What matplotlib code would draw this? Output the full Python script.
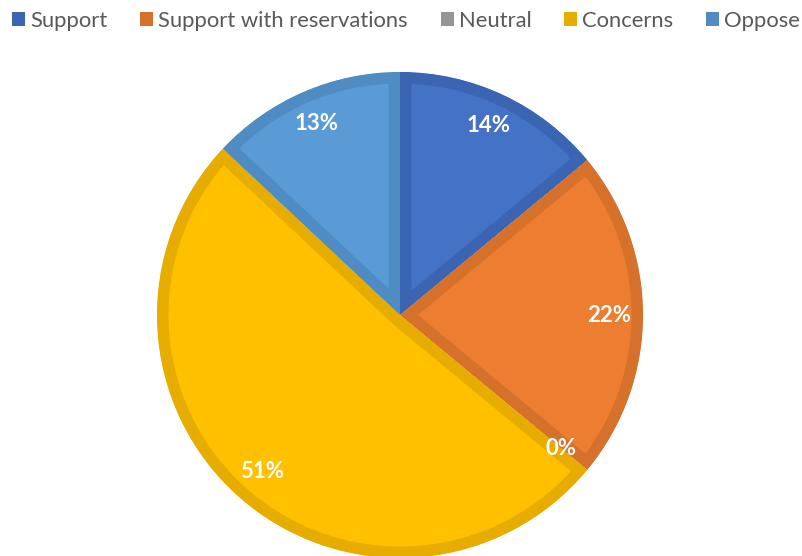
#!/usr/bin/env python3
"""Pie chart of survey responses with an in-slice darker border."""

import matplotlib
matplotlib.use("Agg")
import matplotlib.pyplot as plt
from matplotlib.patches import Rectangle

categories = ["Support", "Support with reservations", "Neutral", "Concerns", "Oppose"]
shares = [14, 22, 0, 51, 13]
fill_colors = ["#4472C4", "#ED7D31", "#A5A5A5", "#FFC000", "#5B9BD5"]
edge_colors = ["#3B65B2", "#D6712C", "#959595", "#E6AD00", "#4F8CC3"]

plt.rcParams["font.family"] = ["Lato", "DejaVu Sans"]

W, H = 803, 556
fig = plt.figure(figsize=(W / 100, H / 100), dpi=100)
ax = fig.add_axes([0, 0, 1, 1])

center = (400, H - 315)
radius = 243

wedges, _, pct_texts = ax.pie(
    shares,
    colors=fill_colors,
    startangle=90,
    counterclock=False,
    center=center,
    radius=radius,
    autopct="%.0f%%",
    pctdistance=0.86,
    textprops=dict(color="white", fontsize=16, fontweight="bold"),
)

# thick edge clipped to the wedge itself -> border drawn only on the inside
# (pie creates wedges with clip_on=False, so switch clipping back on)
for w, ec in zip(wedges, edge_colors):
    w.set_edgecolor(ec)
    w.set_linewidth(16.5)
    w.set_clip_on(True)
    w.set_clip_path(w)

ax.set_xlim(0, W)
ax.set_ylim(0, H)
ax.set_aspect("equal")
ax.axis("off")

handles = [Rectangle((0, 0), 1, 1, facecolor=c, edgecolor="none") for c in edge_colors]
fig.legend(
    handles,
    categories,
    loc="center",
    bbox_to_anchor=(406 / W, 1 - 21 / H),
    ncol=5,
    frameon=False,
    fontsize=15.8,
    labelcolor="#595959",
    handlelength=0.6,
    handleheight=0.6,
    handletextpad=0.22,
    columnspacing=1.5,
    borderpad=0,
)

fig.savefig("out.png", dpi=100)
